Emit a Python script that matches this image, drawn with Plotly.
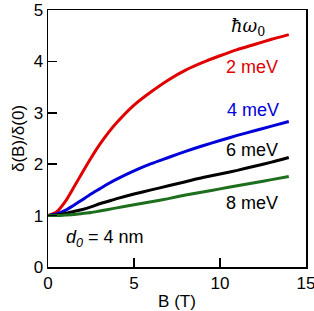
import plotly.graph_objects as go

B = [0, 0.5, 1, 1.5, 2, 2.5, 3, 3.5, 4, 5, 6, 7, 8, 9, 10, 11, 12, 13, 14]
red_2meV = [1.0, 1.07, 1.27, 1.55, 1.84, 2.12, 2.38, 2.61, 2.81, 3.15, 3.41, 3.64, 3.83, 3.98, 4.11, 4.23, 4.33, 4.43, 4.52]
blue_4meV = [1.0, 1.03, 1.10, 1.20, 1.31, 1.42, 1.52, 1.62, 1.71, 1.87, 2.01, 2.13, 2.25, 2.36, 2.46, 2.56, 2.65, 2.74, 2.83]
black_6meV = [1.0, 1.01, 1.04, 1.08, 1.12, 1.17, 1.23, 1.28, 1.33, 1.42, 1.50, 1.58, 1.66, 1.74, 1.81, 1.88, 1.96, 2.04, 2.13]
green_8meV = [1.0, 1.00, 1.01, 1.02, 1.04, 1.06, 1.09, 1.12, 1.15, 1.21, 1.27, 1.33, 1.40, 1.46, 1.52, 1.58, 1.64, 1.70, 1.76]

series = [
    ("2 meV", red_2meV, "#e00000"),
    ("4 meV", blue_4meV, "#0000d8"),
    ("6 meV", black_6meV, "#000000"),
    ("8 meV", green_8meV, "#1d6e1d"),
]

FONT = "Liberation Sans, Arial, sans-serif"

fig = go.Figure()
for name, ys, col in series:
    fig.add_trace(go.Scatter(x=B, y=ys, mode="lines", name=name,
                             line=dict(color=col, width=3, shape="spline", smoothing=0.6),
                             showlegend=False, hoverinfo="skip"))

labels = [
    ("2 meV", 11.85, 3.89, "#e00000"),
    ("4 meV", 11.9, 3.05, "#0000d8"),
    ("6 meV", 11.85, 2.28, "#000000"),
    ("8 meV", 11.85, 1.25, "#000000"),
]
for t, x, y, c in labels:
    fig.add_annotation(x=x, y=y, text=t, showarrow=False, xref="x", yref="y",
                       font=dict(family=FONT, size=18, color=c))

fig.add_annotation(x=11.62, y=4.67, text="<i>ħω</i><sub>0</sub>", showarrow=False,
                   xref="x", yref="y", font=dict(family="DejaVu Serif, serif", size=18, color="#000"))
fig.add_annotation(x=3.33, y=0.56, text="<i>d<sub>0</sub></i> = 4 nm", showarrow=False,
                   xref="x", yref="y", font=dict(family=FONT, size=18, color="#000"))

axis_common = dict(showgrid=False, zeroline=False, showline=True, linecolor="#000",
                   linewidth=1.5, mirror=True, ticks="inside", ticklen=9, tickwidth=1.5,
                   tickcolor="#000", automargin=False, ticklabeloverflow="allow",
                   tickfont=dict(family=FONT, size=17, color="#000"))

fig.update_xaxes(range=[0, 15], tickvals=[0, 5, 10, 15],
                 title=dict(text="B (T)", font=dict(family=FONT, size=17, color="#000"), standoff=4),
                 **axis_common)
fig.update_yaxes(range=[0, 5], tickvals=[0, 1, 2, 3, 4, 5],
                 title=dict(text="δ(B)/δ(0)", font=dict(family=FONT, size=17, color="#000"), standoff=4),
                 **axis_common)

fig.update_layout(width=314, height=311, margin=dict(l=48, r=8, t=10, b=44),
                  plot_bgcolor="white", paper_bgcolor="white")

fig.write_html("out.html", config={"displayModeBar": False, "staticPlot": True},
               post_script="document.body.style.margin='0';document.body.style.padding='0';")
